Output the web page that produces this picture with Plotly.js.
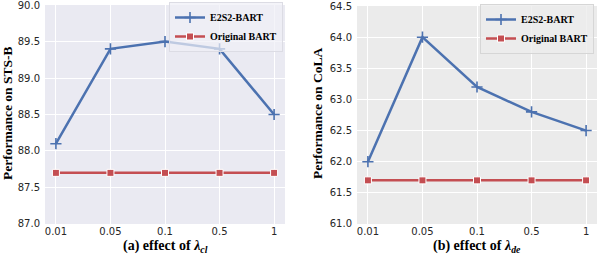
<!DOCTYPE html>
<html>
<head>
<meta charset="utf-8">
<script src="https://cdn.plot.ly/plotly-3.0.1.min.js"></script>
<style>html,body{margin:0;padding:0;background:#fff;}#chart{width:598px;height:256px;}</style>
</head>
<body>
<div id="chart"></div>
<script>
const categories = ["0.01", "0.05", "0.1", "0.5", "1"];
const stsbE2S2 = [88.1, 89.4, 89.5, 89.4, 88.5];
const stsbOriginal = [87.7, 87.7, 87.7, 87.7, 87.7];
const colaE2S2 = [62.0, 64.0, 63.2, 62.8, 62.5];
const colaOriginal = [61.7, 61.7, 61.7, 61.7, 61.7];
const stsbTicks = [87.0, 87.5, 88.0, 88.5, 89.0, 89.5, 90.0];
const colaTicks = [61.0, 61.5, 62.0, 62.5, 63.0, 63.5, 64.0, 64.5];

const blue = "#4C72B0", red = "#C44E52";
const serif = "Liberation Serif, Times New Roman, serif";

function e2s2(y, xa, ya, leg) {
  return {x: categories, y: y, xaxis: xa, yaxis: ya, type: "scatter", mode: "lines+markers",
    name: "E2S2-BART", legend: leg, showlegend: true,
    line: {color: blue, width: 2.5},
    marker: {symbol: "cross-thin", size: 8, color: blue, line: {color: blue, width: 1.6}}};
}
function orig(y, xa, ya, leg) {
  return {x: categories, y: y, xaxis: xa, yaxis: ya, type: "scatter", mode: "lines+markers",
    name: "Original BART", legend: leg, showlegend: true,
    line: {color: red, width: 2.5},
    marker: {symbol: "square", size: 7, color: red, line: {color: "#ffffff", width: 1}}};
}

const data = [
  e2s2(stsbE2S2, "x", "y", "legend"),
  orig(stsbOriginal, "x", "y", "legend"),
  e2s2(colaE2S2, "x2", "y2", "legend2"),
  orig(colaOriginal, "x2", "y2", "legend2")
];

const tickFont = {family: "DejaVu Sans, sans-serif", size: 10, color: "#262626"};
const xBase = {type: "category", range: [-0.2, 4.2], showgrid: true, gridcolor: "#ffffff", gridwidth: 1,
  ticks: "", tickfont: tickFont, zeroline: false, showline: false, fixedrange: true};
const yBase = {showgrid: true, gridcolor: "#ffffff", gridwidth: 1, ticks: "", tickfont: tickFont,
  zeroline: false, showline: false, tickformat: ".1f", ticklabelstandoff: 4, ticklabeloverflow: "allow"};

const legBase = {orientation: "v", xanchor: "right", yanchor: "top",
  font: {family: serif, size: 10, color: "#000", weight: "bold"},
  borderwidth: 1, tracegroupgap: 0, itemwidth: 30};

const layout = {
  width: 598, height: 256,
  margin: {l: 0, r: 0, t: 0, b: 0},
  paper_bgcolor: "#ffffff",
  plot_bgcolor: "#EAEAF2",
  showlegend: true,
  xaxis: Object.assign({}, xBase, {domain: [45/598, 285/598], anchor: "y"}),
  yaxis: Object.assign({}, yBase, {domain: [1-224/256, 1-5/256], range: [86.999, 90.001], tickvals: stsbTicks, anchor: "x"}),
  xaxis2: Object.assign({}, xBase, {domain: [357/598, 597/598], anchor: "y2"}),
  yaxis2: Object.assign({}, yBase, {domain: [1-224/256, 1-6/256], range: [60.999, 64.501], tickvals: colaTicks, anchor: "x2"}),
  legend: Object.assign({}, legBase, {x: 283/598, y: 1-2/256, bgcolor: "rgba(240,240,246,0.7)", bordercolor: "#dcdce4"}),
  legend2: Object.assign({}, legBase, {x: 594/598, y: 1-4/256, bgcolor: "rgba(236,236,236,0.8)", bordercolor: "#d6d6d6"}),
  annotations: [
    {text: "Performance on STS-B", xref: "paper", yref: "paper", x: 7/598, y: 1-114/256, textangle: -90,
      showarrow: false, xanchor: "center", yanchor: "middle", font: {family: serif, size: 13.5, color: "#000", weight: "bold"}},
    {text: "Performance on CoLA", xref: "paper", yref: "paper", x: 317/598, y: 1-114/256, textangle: -90,
      showarrow: false, xanchor: "center", yanchor: "middle", font: {family: serif, size: 13.5, color: "#000", weight: "bold"}},
    {text: "(a) effect of <i>λ</i><sub><i>cl</i></sub>", xref: "paper", yref: "paper", x: 165/598, y: 1-246/256,
      showarrow: false, xanchor: "center", yanchor: "middle", font: {family: serif, size: 14, color: "#000", weight: "bold"}},
    {text: "(b) effect of <i>λ</i><sub><i>de</i></sub>", xref: "paper", yref: "paper", x: 477/598, y: 1-246/256,
      showarrow: false, xanchor: "center", yanchor: "middle", font: {family: serif, size: 14, color: "#000", weight: "bold"}}
  ]
};

Plotly.newPlot("chart", data, layout, {staticPlot: true, displayModeBar: false}).then(function () {
  // second subplot has a neutral grey background
  const bg = document.querySelectorAll(".bglayer .bg");
  if (bg.length > 1) bg[1].style.fill = "#EBEBEB";
});
</script>
</body>
</html>
